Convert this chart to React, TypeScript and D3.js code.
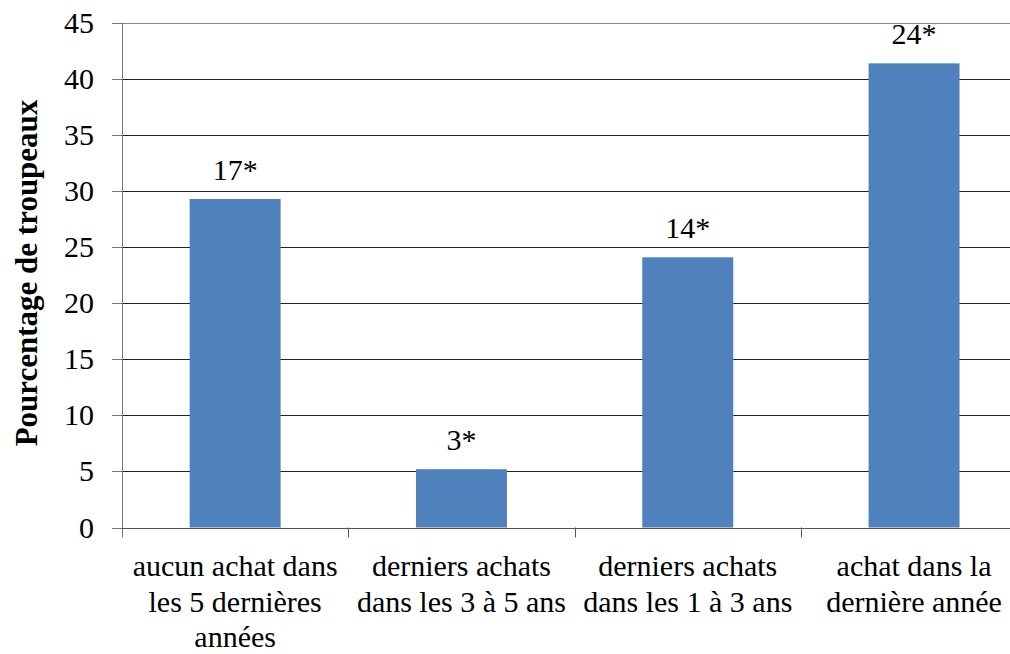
import React from "react";
import * as d3 from "d3";

const categories = ["c1", "c2", "c3", "c4"];
const categoryLines = [
  ["aucun achat dans", "les 5 dernières", "années"],
  ["derniers achats", "dans les 3 à 5 ans"],
  ["derniers achats", "dans les 1 à 3 ans"],
  ["achat dans la", "dernière année"],
];
const values = [29.3, 5.2, 24.1, 41.4];
const valueLabels = ["17*", "3*", "14*", "24*"];
const yTicks = [0, 5, 10, 15, 20, 25, 30, 35, 40, 45];
const yTitle = "Pourcentage de troupeaux";

const W = 1010;
const H = 654;
const left = 122;
const step = 226.3;
const top = 23;
const bottom = 527.5;

const css = `
.lbl { font-family: "Liberation Serif", "Times New Roman", Tinos, serif; font-weight: 400; font-size: 30px; fill: #000; }
.ttl { font-family: "Liberation Serif", "Times New Roman", Tinos, serif; font-weight: 700; font-size: 31px; fill: #000; }
`;

export default function App() {
  const x = d3
    .scaleBand<string>()
    .domain(categories)
    .range([left, left + step * categories.length])
    .padding(0);
  const y = d3.scaleLinear().domain([0, 45]).range([bottom, top]);
  const barW = x.bandwidth() * 0.402;

  return (
    <svg
      width={W}
      height={H}
      lang="fr"
      style={{ position: "absolute", left: 0, top: 0, background: "#fff", fontFamily: "Liberation Serif" }}
    >
      <style>{css}</style>
      {/* horizontal gridlines */}
      {yTicks.map((t) => (
        <line
          key={"g" + t}
          x1={left}
          x2={W}
          y1={Math.round(y(t)) + 0.5}
          y2={Math.round(y(t)) + 0.5}
          stroke={t === 45 ? "#888" : "#222"}
          strokeWidth={1}
        />
      ))}
      {/* bars */}
      {categories.map((c, i) => (
        <rect
          key={"b" + c}
          x={x(c)! + (x.bandwidth() - barW) / 2}
          y={y(values[i])}
          width={barW}
          height={y(0) - y(values[i])}
          fill="#4F81BD"
        />
      ))}
      {/* value labels */}
      {categories.map((c, i) => (
        <text
          key={"v" + c}
          className="lbl"
          x={x(c)! + x.bandwidth() / 2}
          y={y(values[i]) - 19.5}
          textAnchor="middle"
        >
          {valueLabels[i]}
        </text>
      ))}
      {/* y axis */}
      <line x1={left + 0.5} x2={left + 0.5} y1={top} y2={bottom + 10} stroke="#777" />
      {yTicks.map((t) => (
        <g key={"t" + t}>
          <line
            x1={left - 10}
            x2={left}
            y1={Math.round(y(t)) + 0.5}
            y2={Math.round(y(t)) + 0.5}
            stroke="#777"
          />
          <text className="lbl" x={94} y={y(t) + 10} textAnchor="end">
            {String(t)}
          </text>
        </g>
      ))}
      {/* x axis */}
      <line
        x1={left}
        x2={W}
        y1={Math.round(y(0)) + 0.5}
        y2={Math.round(y(0)) + 0.5}
        stroke="#555"
      />
      {categories.slice(1).map((c) => (
        <line
          key={"xt" + c}
          x1={Math.round(x(c)!) + 0.5}
          x2={Math.round(x(c)!) + 0.5}
          y1={bottom}
          y2={bottom + 10}
          stroke="#555"
        />
      ))}
      {/* category labels */}
      {categories.map((c, i) =>
        categoryLines[i].map((ln, j) => (
          <text
            key={"l" + c + j}
            className="lbl"
            x={x(c)! + x.bandwidth() / 2}
            y={576 + j * 35.5}
            textAnchor="middle"
          >
            {ln}
          </text>
        ))
      )}
      {/* y axis title */}
      <text className="ttl" transform="translate(36.5, 273) rotate(-90)" textAnchor="middle">
        {yTitle}
      </text>
    </svg>
  );
}
